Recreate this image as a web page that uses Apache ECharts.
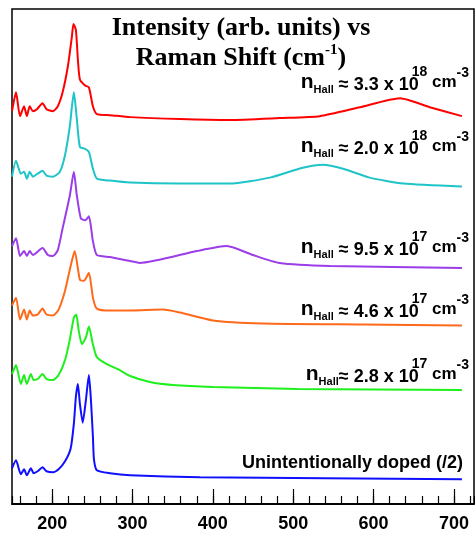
<!DOCTYPE html>
<html lang="en">

<head>
    <meta charset="UTF-8">
    <title>Raman spectra</title>
    <script src="https://cdn.jsdelivr.net/npm/echarts@6/dist/echarts.min.js"></script>
    <style>
        body { margin: 0; background: #ffffff; }
        #chart { width: 475px; height: 533px; }
    </style>
</head>

<body>
    <div id="chart"></div>
</body>

<script>
    // 数据：[Raman shift (cm-1), intensity + offset (arb. units)]
    var n33e18 = [[150, 396], [155, 415], [160, 391], [165, 401], [168.5, 391], [172, 401], [176, 396], [181, 398],
        [188, 404], [193, 398], [201, 396], [207, 401], [213, 415], [219.5, 441], [224.5, 471], [226.5, 484],
        [229.5, 478], [232, 448], [234.5, 428], [241, 422], [245.7, 420], [250.7, 401], [255.6, 393], [272, 392],
        [297, 390], [359, 388], [421, 387], [483, 389], [533, 391], [583, 400], [633, 409], [670, 400], [710, 391]];

    var n20e18 = [[150, 330], [155, 346], [161, 333], [165, 335], [168.5, 328], [172, 335], [176, 330], [182, 333],
        [188, 336], [193, 331], [201, 330], [209.6, 335], [215.8, 351], [222, 381], [224.5, 400], [227, 415],
        [230.7, 388], [234.5, 360], [241, 358], [245.7, 355], [250.7, 338], [255.6, 328], [272, 326], [297, 324],
        [359, 323], [421, 323], [471, 329], [512, 339], [537, 342], [562, 338], [595, 329], [637, 323], [710, 320]];

    var n95e17 = [[150, 260], [155, 268], [160, 250], [165, 255], [168.5, 250], [172, 255], [176, 251], [188, 258],
        [194.6, 251], [201, 250], [207, 256], [213, 278], [222, 311], [227, 335], [230.7, 311], [235.7, 288],
        [241, 286], [245.7, 290], [250.7, 265], [255.6, 251], [272, 249], [297, 245], [309, 243], [380, 255],
        [417.5, 260], [450, 251], [483, 243], [546, 240], [710, 238]];

    var n46e17 = [[150, 200], [155, 208], [160, 186], [165, 196], [168.5, 186], [172, 195], [176, 190], [182, 191],
        [188, 197], [193, 191], [201, 190], [208, 196], [216, 215], [223, 240], [228, 255], [234.5, 226],
        [239.5, 225], [245.7, 233], [250.7, 208], [255.6, 197], [272, 195], [297, 195], [338, 196], [359, 193],
        [400, 185], [462, 182], [587, 181], [710, 180]];

    var n28e17 = [[150, 131], [155, 140], [161, 121], [165, 130], [168.5, 121], [173.5, 131], [177, 125], [182, 126],
        [188, 131], [193, 126], [201, 125], [208, 130], [216, 145], [222, 166], [227, 188], [230, 191], [233, 175],
        [237, 161], [242, 168], [245.7, 179], [250.7, 161], [255.6, 148], [268, 141], [284, 135], [297, 129],
        [321.6, 123], [350, 120], [400, 118], [505, 116], [710, 115]];

    var undoped = [[150, 36], [155, 44], [161, 30], [165, 35], [168.5, 29], [173.5, 36], [177, 31], [182, 33],
        [188, 37], [193, 33], [201, 32], [208, 35], [216, 43], [223, 56], [227, 81], [229.5, 108], [232, 121],
        [234.5, 101], [238, 82], [242, 105], [245.7, 130], [248, 108], [250.7, 68], [252, 45], [255.6, 34],
        [272, 31], [297, 29], [384, 27], [710, 25]];

    var seriesData = [n33e18, n20e18, n95e17, n46e17, n28e17, undoped];
    var seriesColors = ['#ff0000', '#1ec4c8', '#9b3de8', '#ff6a1a', '#1ef01e', '#1010ff'];

    var hallValues = ['3.3', '2.0', '9.5', '4.6', '2.8'];
    var hallExps = ['18', '18', '17', '17', '17'];

    var labelFont = '"Liberation Sans", Arial, sans-serif';
    var titleFont = '"Liberation Serif", "Times New Roman", serif';

    var myChart = echarts.init(document.getElementById('chart'));

    // 注释文字（富文本：下标 / 上标）
    function tok(size, lh, va, pad) {
        return { fontFamily: labelFont, fontWeight: 'bold', fontSize: size, lineHeight: lh, verticalAlign: va, padding: pad || 0, fill: '#000' };
    }
    var annoRich = {
        m: tok(18, 30, 'middle'),
        n: tok(21, 24, 'middle', [0, 0, 6, 0]),
        s: tok(11, 11, 'bottom', [0, 0, 5, 0]),
        c: tok(17, 24, 'middle', [0, 0, 6, 0]),
        e: tok(14, 7, 'top', [-5, 0, 0, -7]),
        u: tok(14, 7, 'top', [-4, 0, 0, 0])
    };

    function hallText(i) {
        var gap = i < 4 ? ' ' : '';
        return '{n|n}{s|Hall}{m|' + gap + '\u2248 ' + hallValues[i] + ' x 10}{e|' + hallExps[i] + '}{c| cm}{u|-3}';
    }

    var annoY = [85.5, 149.5, 250.5, 312.5, 377.5];

    var graphics = annoY.map(function (y, i) {
        return {
            type: 'text',
            x: 469,
            y: y,
            style: {
                text: hallText(i),
                rich: annoRich,
                align: 'right',
                verticalAlign: 'middle',
                textAlign: 'right',
                textVerticalAlign: 'middle'
            }
        };
    });

    graphics.push({
        type: 'text',
        x: 463,
        y: 463.5,
        style: {
            text: '{m|Unintentionally doped (/2)}',
            rich: annoRich,
            align: 'right',
            verticalAlign: 'middle',
            textAlign: 'right',
            textVerticalAlign: 'middle'
        }
    });

    graphics.push({
        type: 'text',
        x: 241,
        y: 13,
        style: {
            text: '{t|Intensity (arb. units) vs}\n{t|Raman Shift (cm}{p|-1}{t|)}',
            rich: {
                t: { fontFamily: titleFont, fontWeight: 'bold', fontSize: 26, lineHeight: 30, verticalAlign: 'middle', fill: '#000' },
                p: { fontFamily: titleFont, fontWeight: 'bold', fontSize: 15, lineHeight: 15, verticalAlign: 'top', fill: '#000' }
            },
            align: 'center',
            verticalAlign: 'top',
            textAlign: 'center',
            textVerticalAlign: 'top'
        }
    });

    var series = seriesData.map(function (d, i) {
        return {
            type: 'line',
            data: d,
            symbol: 'none',
            smooth: 0.2,
            lineStyle: { color: seriesColors[i], width: 2 }
        };
    });
    // 次刻度轴需要绑定一个系列
    series.push({ type: 'line', xAxisIndex: 1, data: [], symbol: 'none' });

    myChart.setOption({
        animation: false,
        grid: {
            left: 12,
            right: 1,
            top: 9,
            bottom: 25,
            show: true,
            borderColor: '#000',
            borderWidth: 1.5
        },
        xAxis: [
            {
                type: 'value',
                min: 150,
                max: 725,
                splitNumber: 5,
                position: 'bottom',
                axisLine: { onZero: false, lineStyle: { color: '#000', width: 1.5 } },
                axisTick: { inside: true, length: 15, lineStyle: { color: '#000', width: 1.2 } },
                axisLabel: {
                    showMinLabel: false,
                    showMaxLabel: false,
                    margin: 11,
                    color: '#000',
                    fontFamily: labelFont,
                    fontWeight: 'bold',
                    fontSize: 18
                },
                splitLine: { show: false }
            },
            {
                // 次刻度（每 20 cm-1）
                type: 'value',
                min: 150,
                max: 725,
                splitNumber: 29,
                position: 'bottom',
                axisLine: { show: true, onZero: false, lineStyle: { color: '#000', width: 1.5 } },
                axisTick: { show: true, inside: true, length: 8, lineStyle: { color: '#000', width: 1.2 } },
                axisLabel: { show: false },
                splitLine: { show: false }
            }
        ],
        yAxis: {
            type: 'value',
            min: 0,
            max: 499,
            show: false
        },
        graphic: graphics,
        series: series
    });
</script>

</html>
